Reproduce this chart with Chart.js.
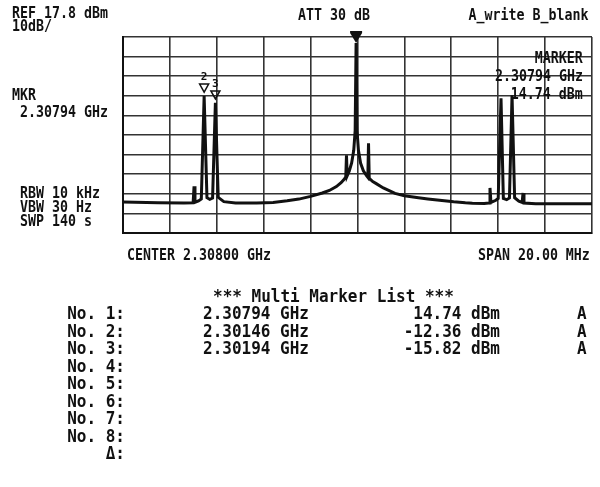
<!DOCTYPE html>
<html>
<head>
<meta charset="utf-8">
<title>Spectrum - Multi Marker List</title>
<script src="https://cdn.jsdelivr.net/npm/chart.js"></script>
<style>
  body { margin: 0; background: #fff; }
  #wrap { position: relative; width: 600px; height: 487px; overflow: hidden; background: #fff; }
  #chart { position: absolute; left: 0; top: 0; }
  .t { position: absolute; font-family: "DejaVu Sans Mono", monospace; font-weight: bold;
       font-size: 16px; line-height: 16px; color: #111; white-space: pre;
       transform: scaleX(0.83); transform-origin: left top; }
  .t.r { transform-origin: right top; text-align: right; }
  .m { position: absolute; font-family: "DejaVu Sans Mono", monospace; font-weight: bold;
       font-size: 16px; line-height: 16px; color: #111; white-space: pre;
       transform: scaleY(1.12); transform-origin: left top; }
</style>
</head>
<body>
<div id="wrap">
  <canvas id="chart" width="600" height="487"></canvas>
</div>

<script>
// analyzer settings
var refLevel = 17.8;      // dBm, top graticule line
var dbPerDiv = 10;
var centerFreq = 2308.0;  // MHz
var spanFreq = 20.0;      // MHz

// trace A (MHz / dBm)
var traceFreqs = [
  2298.00, 2299.50, 2300.60, 2300.99, 2301.03, 2301.07, 2301.22, 2301.34, 2301.46, 2301.58,
  2301.70, 2301.82, 2301.94, 2302.06, 2302.30, 2302.80, 2303.70, 2304.40, 2305.00, 2305.50,
  2306.00, 2306.50, 2306.80, 2307.10, 2307.30, 2307.45, 2307.50, 2307.53, 2307.56, 2307.65,
  2307.75, 2307.84, 2307.90, 2307.94, 2307.98, 2308.04, 2308.13, 2308.25, 2308.40, 2308.44,
  2308.47, 2308.50, 2308.65, 2308.80, 2309.10, 2309.60, 2310.00, 2310.60, 2311.00, 2311.60,
  2312.10, 2312.60, 2312.90, 2313.40, 2313.61, 2313.65, 2313.69, 2313.90, 2314.00, 2314.12,
  2314.22, 2314.36, 2314.48, 2314.59, 2314.70, 2314.88, 2315.02, 2315.06, 2315.10, 2315.60,
  2316.50, 2318.00
];
var traceLevels = [
  -66.4, -66.8, -66.9, -66.8, -58.4, -66.5, -65.8, -64.8, -12.36, -64.2,
  -65.0, -64.4, -15.82, -64.0, -66.2, -66.9, -66.9, -66.6, -65.8, -64.9,
  -63.5, -61.8, -60.5, -58.5, -56.5, -54.5, -53.6, -42.6, -53.0, -50.5,
  -46.5, -40.0, -30.0, 14.74, -30.0, -40.0, -46.5, -50.5, -53.2, -53.8,
  -36.4, -54.3, -56.0, -57.0, -59.2, -62.0, -63.2, -64.2, -64.8, -65.6,
  -66.3, -66.8, -67.0, -67.1, -66.9, -59.2, -66.6, -65.5, -64.6, -13.5,
  -64.6, -65.2, -64.3, -12.0, -64.2, -66.0, -66.6, -61.8, -66.9, -67.3,
  -67.3, -67.3
];

// multi marker list
var markerNames = ['No. 1:', 'No. 2:', 'No. 3:', 'No. 4:', 'No. 5:', 'No. 6:', 'No. 7:', 'No. 8:', 'Δ:'];
var markerFreqs = [2307.94, 2301.46, 2301.94];
var markerLevels = [14.74, -12.36, -15.82];

var wrap = document.getElementById('wrap');

function addText(txt, cls, pos) {
  var d = document.createElement('div');
  d.className = cls;
  d.textContent = txt;
  for (var k in pos) d.style[k] = pos[k] + 'px';
  wrap.appendChild(d);
  return d;
}

function ghz(f) { return (f / 1000).toFixed(5) + ' GHz'; }

// screen annotations
addText('REF ' + refLevel.toFixed(1) + ' dBm', 't', { left: 12, top: 5 });
addText(dbPerDiv + 'dB/', 't', { left: 12, top: 18 });
addText('ATT 30 dB', 't', { left: 298, top: 7 });
addText('A_write B_blank', 't r', { right: 12, top: 7 });
addText('MKR', 't', { left: 12, top: 87 });
addText(ghz(markerFreqs[0]), 't', { left: 20, top: 104 });
addText('MARKER', 't r', { right: 17, top: 50 });
addText(ghz(markerFreqs[0]), 't r', { right: 17, top: 68 });
addText(markerLevels[0].toFixed(2) + ' dBm', 't r', { right: 17, top: 86 });
addText('RBW 10 kHz', 't', { left: 20, top: 185 });
addText('VBW 30 Hz', 't', { left: 20, top: 199 });
addText('SWP 140 s', 't', { left: 20, top: 213 });
addText('CENTER ' + ghz(centerFreq), 't', { left: 127, top: 247 });
addText('SPAN ' + spanFreq.toFixed(2) + ' MHz', 't r', { right: 10, top: 247 });

// marker table
addText('*** Multi Marker List ***', 'm', { left: 213, top: 287 });
markerNames.forEach(function (name, i) {
  var top = 304 + i * 17.5;
  addText(name, 'm', { right: 475, top: top });
  if (i < markerFreqs.length) {
    addText(ghz(markerFreqs[i]), 'm', { left: 203, top: top });
    addText(markerLevels[i].toFixed(2) + ' dBm', 'm', { right: 100, top: top });
    addText('A', 'm', { left: 577, top: top });
  }
});

// marker symbols on the trace
var markerPlugin = {
  id: 'markers',
  afterDatasetsDraw: function (chart) {
    var ctx = chart.ctx, x = chart.scales.x, y = chart.scales.y;
    ctx.save();
    ctx.fillStyle = '#111';
    ctx.strokeStyle = '#111';
    ctx.lineWidth = 1.5;
    markerFreqs.forEach(function (f, i) {
      var px = x.getPixelForValue(f);
      var py = y.getPixelForValue(markerLevels[i]);
      ctx.beginPath();
      if (i === 0) {
        // active marker: solid triangle
        ctx.moveTo(px - 6, py - 10);
        ctx.lineTo(px + 6, py - 10);
        ctx.lineTo(px, py);
        ctx.closePath();
        ctx.fill();
        ctx.fillRect(px - 6, py - 12, 12, 2);
      } else {
        var tip = py - 4;
        ctx.moveTo(px - 4.5, tip - 8);
        ctx.lineTo(px + 4.5, tip - 8);
        ctx.lineTo(px, tip);
        ctx.closePath();
        ctx.stroke();
        ctx.font = 'bold 11px "DejaVu Sans Mono"';
        ctx.textAlign = 'center';
        ctx.textBaseline = 'bottom';
        ctx.fillText(String(i + 1), px, tip - 9);
      }
    });
    ctx.restore();
  }
};

var xMin = centerFreq - spanFreq / 2, xMax = centerFreq + spanFreq / 2;
var yMax = refLevel, yMin = refLevel - 10 * dbPerDiv;

var points = traceFreqs.map(function (f, i) { return { x: f, y: traceLevels[i] }; });

new Chart(document.getElementById('chart').getContext('2d'), {
  type: 'line',
  data: {
    datasets: [{
      data: points,
      borderColor: '#111',
      borderWidth: 3,
      pointRadius: 0,
      tension: 0,
      fill: false
    }]
  },
  options: {
    responsive: false,
    animation: false,
    devicePixelRatio: 1,
    layout: { padding: { left: 123, top: 37, right: 8, bottom: 254 } },
    plugins: { legend: { display: false }, tooltip: { enabled: false } },
    scales: {
      x: {
        type: 'linear', min: xMin, max: xMax,
        afterBuildTicks: function (axis) {
          var t = [];
          for (var i = 0; i <= 10; i++) t.push({ value: xMin + i * spanFreq / 10 });
          axis.ticks = t;
        },
        ticks: { display: false },
        grid: { color: '#333', lineWidth: 1.6, drawTicks: false },
        border: { display: true, color: '#111', width: 2 }
      },
      y: {
        type: 'linear', min: yMin, max: yMax,
        afterBuildTicks: function (axis) {
          var t = [];
          for (var i = 0; i <= 10; i++) t.push({ value: yMin + i * dbPerDiv });
          axis.ticks = t;
        },
        ticks: { display: false },
        grid: { color: '#333', lineWidth: 1.6, drawTicks: false },
        border: { display: true, color: '#111', width: 2 }
      }
    }
  },
  plugins: [markerPlugin]
});
</script>
</body>
</html>
